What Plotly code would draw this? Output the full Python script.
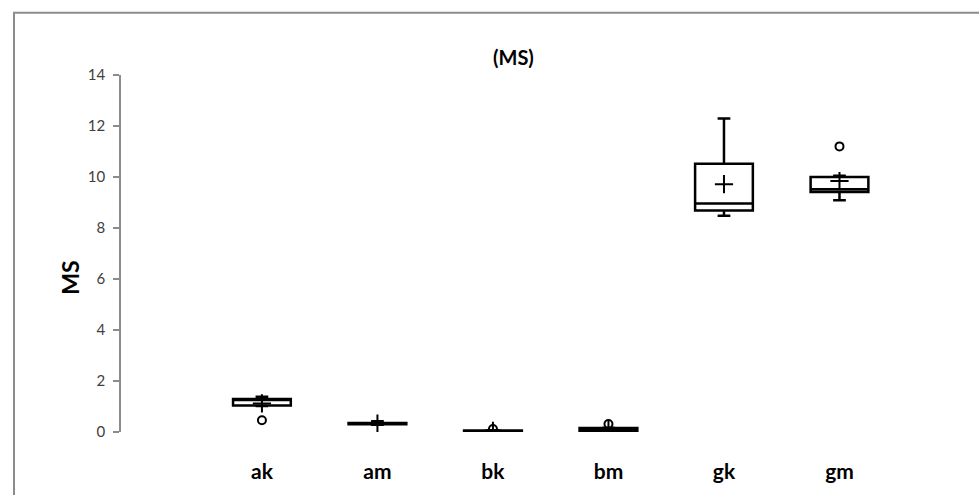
import plotly.graph_objects as go

# Box-plot statistics per group
categories = ["ak", "am", "bk", "bm", "gk", "gm"]
lower_whisker = [1.02, 0.28, 0.01, 0.01, 8.48, 9.09]
q1_values = [1.04, 0.30, 0.02, 0.02, 8.69, 9.41]
median_values = [1.27, 0.32, 0.04, 0.10, 8.96, 9.52]
q3_values = [1.29, 0.35, 0.06, 0.16, 10.52, 10.00]
upper_whisker = [1.38, 0.42, 0.07, 0.17, 12.29, 10.05]
mean_values = [1.12, 0.33, 0.05, 0.09, 9.72, 9.84]
outlier_x = ["ak", "bk", "bm", "gm"]
outlier_y = [0.46, 0.12, 0.31, 11.20]

y_ticks = [0, 2, 4, 6, 8, 10, 12, 14]

W, H = 979, 495
ML, MR, MT, MB = 121, 24, 75, 59
pw, ph = W - ML - MR, H - MT - MB

fig = go.Figure()

fig.add_trace(go.Box(
    x=categories,
    q1=q1_values,
    median=median_values,
    q3=q3_values,
    lowerfence=lower_whisker,
    upperfence=upper_whisker,
    boxpoints=False,
    width=0.5,
    whiskerwidth=0.22,
    fillcolor="rgba(255,255,255,0)",
    line=dict(color="black", width=2.5),
    showlegend=False,
    hoverinfo="skip",
))

# Mean markers
fig.add_trace(go.Scatter(
    x=categories, y=mean_values, mode="markers",
    marker=dict(symbol="cross-thin", size=13, line=dict(color="black", width=2)),
    showlegend=False, hoverinfo="skip",
))

# Outliers
fig.add_trace(go.Scatter(
    x=outlier_x, y=outlier_y, mode="markers",
    marker=dict(symbol="circle-open", size=8, color="black", line=dict(color="black", width=2)),
    showlegend=False, hoverinfo="skip",
))

fig.update_layout(
    width=W, height=H,
    margin=dict(l=ML, r=MR, t=MT, b=MB),
    paper_bgcolor="white", plot_bgcolor="white",
    font=dict(family="Lato, Open Sans, sans-serif"),
    xaxis=dict(
        type="category",
        categoryorder="array", categoryarray=categories,
        range=[-1.22, 6.0],
        showgrid=False, zeroline=False, showline=False,
        ticks="outside", ticklen=21, tickcolor="rgba(0,0,0,0)",
        tickfont=dict(size=21, color="black", family="Lato, Open Sans, sans-serif", weight="bold"),
    ),
    yaxis=dict(
        range=[0, 14],
        tickvals=y_ticks,
        showgrid=False, zeroline=False,
        showline=True, linecolor="#8c8c8c", linewidth=1.5,
        ticks="outside", ticklen=6, tickcolor="#8c8c8c", tickwidth=1.5,
        tickfont=dict(size=15, color="#404040"),
        ticklabelstandoff=5,
    ),
    annotations=[
        dict(text="<b>(MS)</b>", xref="paper", yref="paper",
             x=(513 - ML) / pw, y=(H - MB - 57) / ph,
             showarrow=False, font=dict(size=20, color="black"),
             xanchor="center", yanchor="middle"),
        dict(text="<b>MS</b>", xref="paper", yref="paper",
             x=(70 - ML) / pw, y=(H - MB - 280) / ph,
             showarrow=False, textangle=-90, font=dict(size=23, color="black"),
             xanchor="center", yanchor="middle"),
    ],
    shapes=[
        dict(type="rect", xref="paper", yref="paper",
             x0=(14 - ML) / pw, x1=(990 - ML) / pw,
             y0=(H - MB - 510) / ph, y1=(H - MB - 12) / ph,
             line=dict(color="#8c8c8c", width=2), fillcolor="rgba(0,0,0,0)",
             layer="below"),
    ],
)

fig.write_html("out.html")
